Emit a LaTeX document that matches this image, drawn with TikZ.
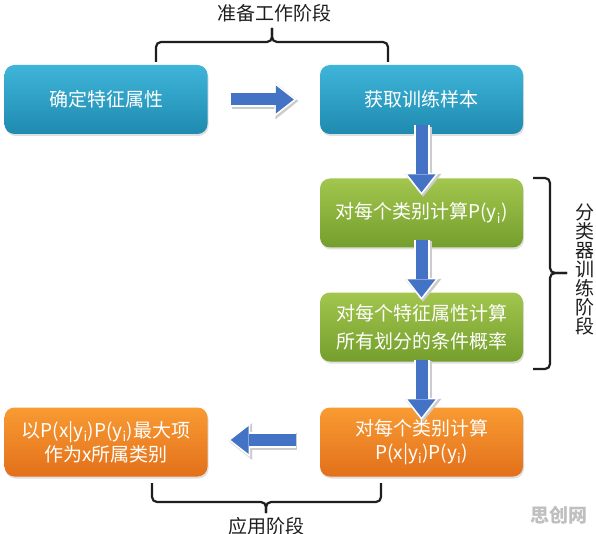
\documentclass[tikz,border=0pt]{standalone}
\usepackage{fontspec}
\setmainfont{Noto Sans CJK SC}
\usetikzlibrary{arrows.meta, shadows}

\definecolor{bluetop}{HTML}{3FB5D9}
\definecolor{bluebot}{HTML}{1F8AB0}
\definecolor{greentop}{HTML}{A2C64E}
\definecolor{greenbot}{HTML}{749E2C}
\definecolor{orangetop}{HTML}{F99B33}
\definecolor{orangebot}{HTML}{E2701A}
\definecolor{flowblue}{HTML}{4472C4}
\definecolor{inkgray}{HTML}{1E1E1E}

\tikzset{
  stage/.style={rounded corners=10pt, minimum width=203pt, minimum height=69pt,
    text=white, align=center, font=\fontsize{19}{24}\selectfont,
    drop shadow={opacity=0.25, shadow xshift=1pt, shadow yshift=-2pt}},
  bluebox/.style={stage, top color=bluetop, bottom color=bluebot},
  greenbox/.style={stage, top color=greentop, bottom color=greenbot},
  orangebox/.style={stage, top color=orangetop, bottom color=orangebot},
  flow/.style={draw=flowblue, line width=12pt,
    -{Triangle[length=18pt, width=28pt, line width=0pt]},
    preaction={draw=black!20, line width=17pt, shorten >=-3pt,
      transform canvas={shift={(1.5pt,-1.5pt)}},
      -{Triangle[length=23pt, width=37pt, line width=0pt]}},
    preaction={draw=white, line width=16pt, shorten >=-2.5pt,
      -{Triangle[length=22pt, width=35pt, line width=0pt]}}},
  bracket/.style={draw=inkgray, line width=2.2pt, rounded corners=5pt},
  phase/.style={text=inkgray, font=\fontsize{19}{19}\selectfont},
}

\begin{document}
\begin{tikzpicture}[x=1pt, y=-1pt]
    \useasboundingbox (0,0) rectangle (596,534);
    \fill[white] (0,0) rectangle (596,534);

    % boxes
    \node[bluebox] (feat) at (106,99.5) {确定特征属性};
    \node[bluebox] (sample) at (421.5,99.5) {获取训练样本};
    \node[greenbox] (prior) at (421.5,213) {对每个类别计算P(y\textsubscript{i})};
    \node[greenbox, font=\fontsize{19}{28}\selectfont] (cond) at (421.5,327)
        {对每个特征属性计算\\所有划分的条件概率};
    \node[orangebox] (post) at (421.5,442)
        {对每个类别计算\\P(x|y\textsubscript{i})P(y\textsubscript{i})};
    \node[orangebox] (decide) at (106,442)
        {以P(x|y\textsubscript{i})P(y\textsubscript{i})最大项\\作为x所属类别};

    % block arrows
    \draw[flow] ([xshift=23pt]feat.east) -- ([xshift=-26pt]sample.west);
    \draw[flow] ([yshift=9pt]sample.south) -- ([yshift=-14pt]prior.north);
    \draw[flow] ([yshift=8pt]prior.south) -- ([yshift=-5pt]cond.north);
    \draw[flow] ([yshift=2pt]cond.south) -- ([yshift=-10pt]post.north);
    \draw[flow] ([xshift=-24pt,yshift=2pt]post.west) -- ([xshift=23pt,yshift=2pt]decide.east);

    % brackets
    \draw[bracket] (156,62) -- (156,42) -- (272,42) -- (272,28);
    \draw[bracket] (388,62) -- (388,42) -- (272,42) -- (272,28);
    \node[phase] (prep) at (274,13) {准备工作阶段};

    \draw[bracket] (533,178) -- (550,178) -- (550,273) -- (567,273);
    \draw[bracket] (533,369) -- (550,369) -- (550,273) -- (567,273);
    \node[phase, align=center] (train) at (585,269) {分\\类\\器\\训\\练\\阶\\段};

    \draw[bracket] (152,483) -- (152,502) -- (266,502) -- (266,513);
    \draw[bracket] (381,483) -- (381,502) -- (266,502) -- (266,513);
    \node[phase] (apply) at (266,526) {应用阶段};

    \node[text=black!25, font=\bfseries\fontsize{19}{19}\selectfont] (mark) at (559,515) {思创网};
\end{tikzpicture}
\end{document}
